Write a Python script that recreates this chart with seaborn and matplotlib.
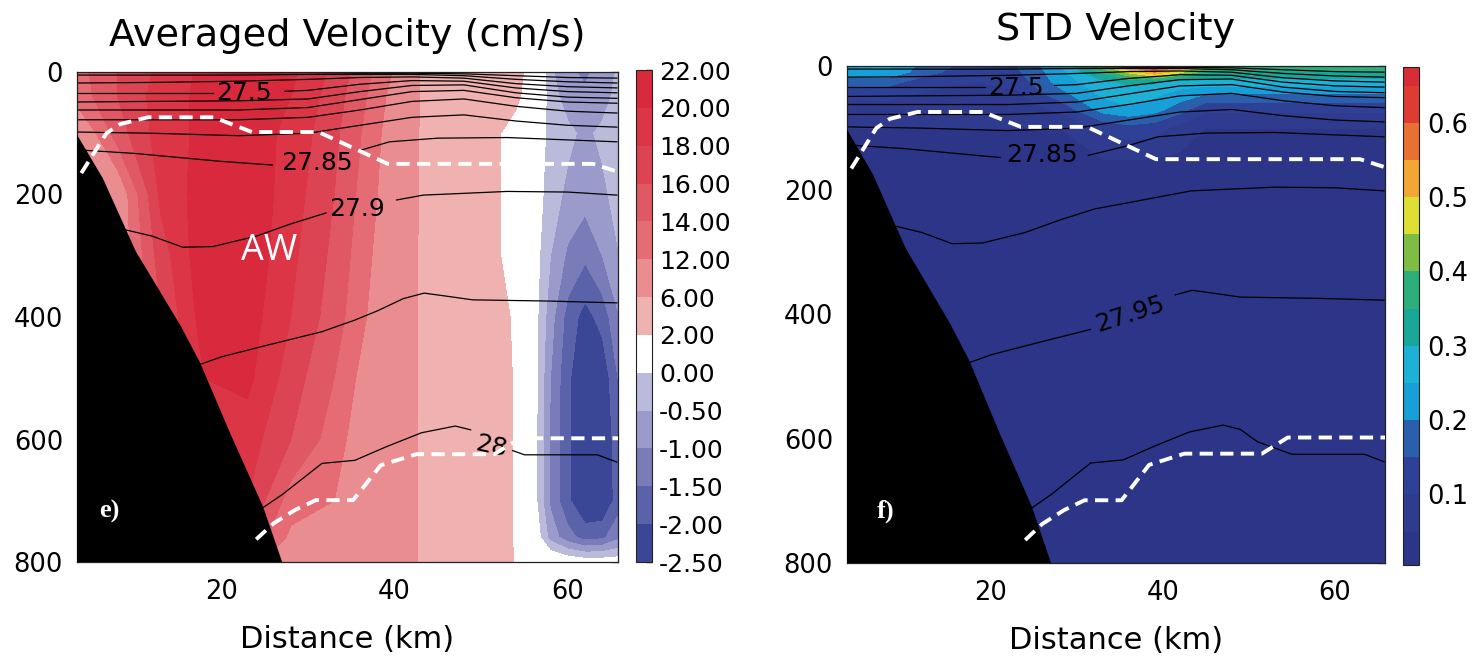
import numpy as np
import matplotlib
matplotlib.use("Agg")
import matplotlib.pyplot as plt
import seaborn as sns

# ---------------- data ----------------
vel_km = [3, 8, 13, 18, 23, 28, 33, 38, 42, 43, 48, 52, 54, 56, 58, 60, 62, 64, 66]
vel_depth = [0, 40, 100, 200, 300, 400, 500, 600, 700, 760, 800]
vel_cm_s = [
    [13.0, 16.0, 18.5, 20.5, 21.0, 20.5, 17.5, 13.5, 10.0, 5.5, 4.0, 3.5, 2.8, 1.0, -0.4, -0.9, -1.1, -0.8, -0.4],
    [12.5, 16.0, 19.0, 20.5, 21.0, 20.0, 17.0, 13.0, 9.0, 5.5, 4.0, 3.0, 2.4, 0.9, -0.3, -0.7, -0.9, -0.7, -0.3],
    [9.0, 15.0, 19.0, 20.5, 21.0, 19.5, 16.5, 12.5, 8.0, 5.5, 4.0, 2.1, 1.3, 0.5, -0.2, -0.4, -0.6, -0.4, -0.2],
    [7.0, 10.0, 18.5, 21.0, 21.5, 19.0, 16.0, 12.0, 7.5, 5.5, 4.0, 2.1, 1.3, 0.4, -0.3, -0.6, -0.8, -0.6, -0.3],
    [7.0, 10.0, 17.0, 21.5, 21.5, 18.5, 15.5, 11.5, 7.0, 5.5, 4.0, 2.1, 1.3, 0.3, -0.5, -1.1, -1.4, -1.0, -0.5],
    [7.0, 10.0, 16.0, 21.0, 21.0, 18.0, 15.0, 11.0, 6.8, 5.5, 4.0, 2.6, 1.7, 0.3, -0.8, -1.7, -2.2, -1.8, -1.0],
    [7.0, 10.0, 16.0, 20.0, 20.5, 17.0, 14.0, 10.0, 6.8, 5.5, 4.0, 2.8, 1.8, 0.3, -1.0, -1.9, -2.5, -2.4, -1.4],
    [7.0, 10.0, 15.0, 19.0, 19.0, 16.0, 13.0, 9.5, 6.8, 5.5, 4.0, 2.8, 1.8, 0.3, -1.1, -1.9, -2.5, -2.5, -1.6],
    [7.0, 10.0, 14.0, 18.0, 18.0, 13.0, 12.0, 9.0, 6.8, 5.5, 4.0, 2.8, 1.8, 0.3, -1.1, -1.9, -2.5, -2.5, -1.7],
    [7.0, 10.0, 13.0, 17.0, 16.0, 11.5, 11.0, 8.5, 6.8, 5.5, 4.0, 2.8, 1.8, 0.5, -0.7, -1.3, -1.7, -1.6, -1.1],
    [7.0, 10.0, 12.0, 16.0, 13.0, 10.0, 10.0, 8.0, 6.8, 5.5, 4.0, 2.8, 1.9, 1.0, 0.6, 0.4, 0.3, 0.3, 0.3],
]

std_km = [3, 8, 13, 18, 23, 28, 33, 36, 39, 42, 45, 50, 55, 60, 66]
std_depth = [0, 10, 25, 45, 70, 100, 150, 250, 400, 800]
std_vel = [
    [0.25, 0.26, 0.17, 0.13, 0.15, 0.24, 0.43, 0.56, 0.67, 0.55, 0.41, 0.38, 0.38, 0.38, 0.38],
    [0.23, 0.24, 0.16, 0.12, 0.14, 0.23, 0.36, 0.46, 0.55, 0.46, 0.36, 0.34, 0.34, 0.34, 0.34],
    [0.18, 0.17, 0.12, 0.10, 0.12, 0.22, 0.29, 0.31, 0.31, 0.28, 0.28, 0.28, 0.28, 0.28, 0.28],
    [0.12, 0.12, 0.09, 0.08, 0.09, 0.18, 0.26, 0.28, 0.26, 0.23, 0.20, 0.20, 0.20, 0.20, 0.20],
    [0.07, 0.07, 0.07, 0.07, 0.07, 0.11, 0.22, 0.24, 0.22, 0.17, 0.11, 0.11, 0.11, 0.11, 0.11],
    [0.05, 0.05, 0.05, 0.05, 0.05, 0.05, 0.11, 0.13, 0.12, 0.08, 0.05, 0.05, 0.05, 0.05, 0.05],
    [0.04, 0.05, 0.05, 0.05, 0.05, 0.05, 0.05, 0.05, 0.05, 0.04, 0.04, 0.04, 0.04, 0.04, 0.04],
    [0.04, 0.04, 0.04, 0.04, 0.04, 0.04, 0.04, 0.04, 0.04, 0.03, 0.03, 0.03, 0.03, 0.03, 0.03],
    [0.03, 0.03, 0.03, 0.03, 0.03, 0.03, 0.03, 0.03, 0.03, 0.03, 0.03, 0.03, 0.03, 0.03, 0.03],
    [0.02, 0.02, 0.02, 0.02, 0.02, 0.02, 0.02, 0.02, 0.02, 0.02, 0.02, 0.02, 0.02, 0.02, 0.02],
]

vel_levels = [-2.5, -2.0, -1.5, -1.0, -0.5, 0.0, 2.0, 6.0, 12.0, 14.0, 16.0, 18.0, 20.0, 22.0]
vel_colors = ["#3a4797", "#5a62a9", "#7a7cba", "#9a9bcb", "#babada", "#ffffff",
              "#f0b1b1", "#ea8d91", "#e56c75", "#e05864", "#dd4453", "#db3546", "#d82a3c"]

std_levels = [0.005, 0.05, 0.1, 0.15, 0.2, 0.25, 0.3, 0.35, 0.4, 0.45, 0.5, 0.55, 0.6, 0.65, 0.675]
std_colors = ["#2d3588", "#2f3b8e", "#2f4196", "#2a5fab", "#17a0d8", "#1cb1d5", "#17a89a",
              "#2caf7b", "#7fbc44", "#dde033", "#f2a735", "#ea7031", "#de3c33", "#d82c36"]

bathy_km = [2.5, 3.2, 6.3, 10.1, 15.3, 17.5, 21.0, 24.8, 27.0]
bathy_depth = [80, 100, 174, 293, 415, 474, 590, 710, 800]

dash_up_km = [3.8, 5.0, 6.7, 8.3, 11.5, 19.1, 23.5, 31.2, 39.2, 62.9, 65.8]
dash_up_depth = [165, 138, 100, 85, 74, 74, 98, 98, 150, 150, 163]
dash_lo_km = [24.0, 26.0, 28.5, 30.9, 35.2, 38.4, 42.5, 51.5, 54.5, 65.8]
dash_lo_depth = [763, 737, 715, 699, 699, 642, 624, 624, 598, 598]

iso_levels = [27.2, 27.3, 27.4, 27.5, 27.6, 27.7, 27.75, 27.8, 27.85, 27.9, 27.95, 28.0]
iso_km = [
    [3.3, 12, 22, 30, 36, 42, 48, 54, 60, 65.7],
    [3.3, 12, 22, 30, 36, 42, 48, 54, 60, 65.7],
    [3.3, 12, 22, 30, 36, 42, 48, 54, 60, 65.7],
    [3.3, 12, 22, 30, 36, 42, 48, 54, 60, 65.7],
    [3.3, 12, 22, 30, 36, 42, 48, 54, 60, 65.7],
    [3.3, 12, 22, 30, 36, 42, 48, 54, 60, 65.7],
    [3.3, 12, 22, 30, 36, 42, 48, 54, 60, 65.7],
    [3.3, 12, 22, 30, 36, 42, 48, 54, 60, 65.7],
    [3.3, 10, 20, 26, 31, 36, 39.4, 45, 53, 65.7],
    [9, 12, 15.5, 19, 24, 28, 32.1, 36, 40.2, 43.3, 53, 60, 65.7],
    [17.0, 20, 25, 31.6, 35.4, 38, 41, 43.4, 46, 49, 58, 65.7],
    [24.5, 27, 31.6, 35.4, 39, 43.1, 47, 49, 51, 55, 63.4, 65.7],
]
iso_depth = [
    [0, 0, 1, 1, 2, 2, 3, 6, 9, 10],
    [5, 5, 5, 4, 4, 4, 6, 12, 16, 18],
    [18, 17, 15, 12, 9, 8, 10, 19, 24, 26],
    [34, 34, 34, 30, 20, 14, 15, 26, 32, 34],
    [49, 48, 47, 44, 32, 22, 21, 34, 41, 43],
    [62, 62, 62, 58, 45, 32, 30, 42, 49, 51],
    [78, 78, 78, 74, 62, 48, 44, 56, 64, 67],
    [98, 100, 104, 100, 87, 74, 70, 80, 87, 90],
    [127, 133, 146, 152, 145, 128, 114, 108, 107, 114],
    [258, 268, 286, 285, 268, 248, 230, 220, 209, 201, 195, 196, 201],
    [480, 465, 447, 424, 405, 390, 370, 361, 366, 372, 374, 377],
    [714, 690, 639, 634, 612, 589, 578, 585, 605, 625, 625, 637],
]

# contour labels per panel: (level, km, depth, rotation, gap_start, gap_end)
left_labels = [(27.5, 22.6, 34, 0, 19.0, 27.3), (27.85, 31.0, 149, 0, 25.9, 36.0),
               (27.9, 35.6, 223, 0, 32.1, 40.2), (28.0, 51.1, 611, -12, 48.8, 53.6)]
right_labels = [(27.5, 22.9, 36, 0, 19.3, 27.4), (27.85, 25.9, 143, 0, 21.1, 31.3),
                (27.95, 36.2, 400, 18, 31.6, 41.4)]

# ---------------- styling ----------------
sns.set_theme(style="white")
plt.rcParams["font.family"] = ["DejaVu Sans"]
plt.rcParams.update({
    "axes.edgecolor": "#222222", "axes.linewidth": 0.9,
    "text.color": "black", "axes.labelcolor": "black",
    "xtick.color": "black", "ytick.color": "black",
    "xtick.labelcolor": "black", "ytick.labelcolor": "black",
})

fig = plt.figure(figsize=(14.77, 6.57), dpi=100)
axL = fig.add_axes([77 / 1477, 95 / 657, 541 / 1477, 490 / 657])
caxL = fig.add_axes([636 / 1477, 95 / 657, 16 / 1477, 492 / 657])
axR = fig.add_axes([847 / 1477, 94 / 657, 538 / 1477, 497 / 657])
caxR = fig.add_axes([1403 / 1477, 92 / 657, 16 / 1477, 498 / 657])

XLIM = (3.3, 65.8)


def fmt_level(v):
    return ("%.2f" % v).rstrip("0").rstrip(".")


def draw_isopycnals(ax, labels):
    lab = {l[0]: l for l in labels}
    for lev, km, dep in zip(iso_levels, iso_km, iso_depth):
        km = np.asarray(km, float)
        dep = np.asarray(dep, float)
        if lev in lab:
            _, tx, ty, rot, g0, g1 = lab[lev]
            pieces = [(km[0], g0), (g1, km[-1])]
            ax.text(tx, ty, fmt_level(lev), fontsize=18, ha="center", va="center",
                    rotation=rot, color="black", zorder=4)
        else:
            pieces = [(km[0], km[-1])]
        for a, b in pieces:
            inside = (km > a) & (km < b)
            xs = np.concatenate([[a], km[inside], [b]])
            ys = np.interp(xs, km, dep)
            ax.plot(xs, ys, color="black", lw=0.9, zorder=2)


def common(ax, tag, tagx):
    poly_x = bathy_km + [bathy_km[-1], bathy_km[0]]
    poly_y = bathy_depth + [820, 820]
    ax.fill(poly_x, poly_y, color="black", zorder=3, lw=0)
    for kx, kz in ((dash_up_km, dash_up_depth), (dash_lo_km, dash_lo_depth)):
        sns.lineplot(x=kx, y=kz, ax=ax, color="white", lw=2.8, sort=False,
                     estimator=None, linestyle=(0, (3.4, 1.9)), zorder=5)
    ax.text(tagx, 717, tag, color="white", fontsize=19, family="Liberation Serif",
            weight="bold", ha="left", va="center", zorder=6)
    ax.set_xlim(*XLIM)
    ax.set_ylim(800, 0)
    ax.set_xticks([20, 40, 60])
    ax.set_yticks([0, 200, 400, 600, 800])
    ax.tick_params(direction="in", length=5, width=0.9, top=True, right=True,
                   labelsize=18.5, color="#222222", labelcolor="black")
    ax.tick_params(axis="x", pad=12)
    ax.tick_params(axis="y", pad=10)
    ax.set_xlabel("Distance (km)", fontsize=22, color="black")
    ax.set_ylabel("")


# ---------------- left panel ----------------
csL = axL.contourf(vel_km, vel_depth, vel_cm_s, levels=vel_levels, colors=vel_colors, zorder=1)
draw_isopycnals(axL, left_labels)
common(axL, "e)", 5.8)
axL.text(25.5, 292, "AW", color="white", fontsize=26, family="Open Sans",
         ha="center", va="center", zorder=6)
axL.set_title("Averaged Velocity (cm/s)", fontsize=27.5, pad=19, color="black")
axL.xaxis.set_label_coords(0.5, -0.128)

cbL = fig.colorbar(csL, cax=caxL, ticks=vel_levels, format="%.2f")
cbL.ax.tick_params(direction="in", length=4, width=1, labelsize=18, pad=5,
                   color="#222222", labelcolor="black")
cbL.outline.set_linewidth(0.8)
cbL.outline.set_edgecolor("#222222")

# ---------------- right panel ----------------
csR = axR.contourf(std_km, std_depth, std_vel, levels=std_levels, colors=std_colors, zorder=1)
draw_isopycnals(axR, right_labels)
common(axR, "f)", 6.8)
axR.set_title("STD Velocity", fontsize=27.5, pad=19, color="black")
axR.xaxis.set_label_coords(0.5, -0.127)

cbR = fig.colorbar(csR, cax=caxR, ticks=[0.1, 0.2, 0.3, 0.4, 0.5, 0.6],
                   format="%.1f", spacing="proportional")
cbR.ax.tick_params(direction="in", length=4, width=1, labelsize=18.5, pad=6,
                   color="#222222", labelcolor="black")
cbR.outline.set_linewidth(0.8)
cbR.outline.set_edgecolor("#222222")

fig.savefig("out.png", dpi=100)
